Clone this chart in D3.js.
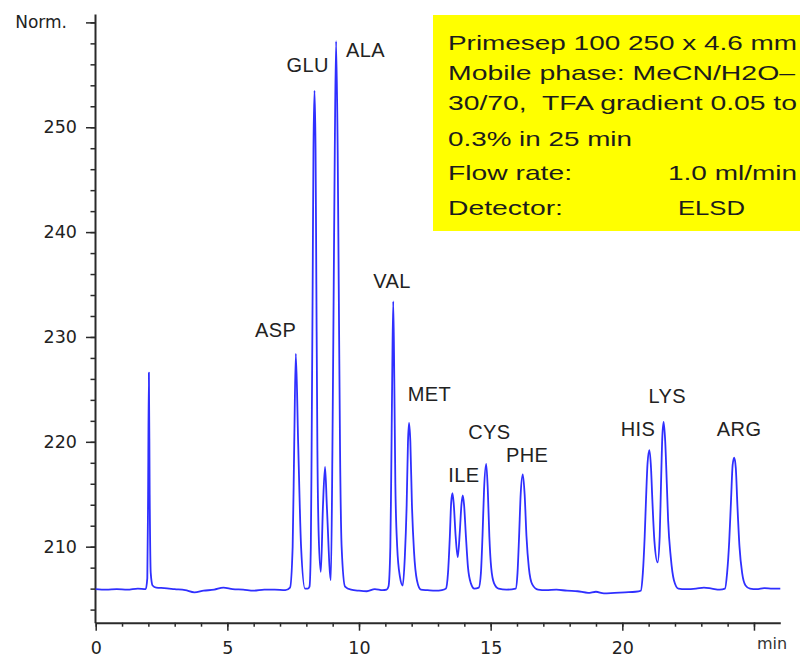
<!DOCTYPE html>
<html>
<head>
<meta charset="utf-8">
<script src="https://cdn.jsdelivr.net/npm/d3@7"></script>
<style>
  body { margin: 0; background: #fff; }
  svg { display: block; }
</style>
</head>
<body>
<script>
// trace: [retention time (min), response]
var trace = [
  [0, 205.95], [0.4, 205.9], [0.8, 205.95], [1.2, 205.9], [1.6, 206.0], [1.9, 205.95],
  [1.96, 207], [1.99, 215], [2.02, 226.6], [2.05, 215], [2.09, 207.5], [2.16, 206.3],
  [2.3, 206.1], [2.6, 206.05], [3.0, 205.95], [3.4, 205.85], [3.75, 205.65], [4.1, 205.8],
  [4.5, 205.9], [4.85, 206.1], [5.2, 205.95], [5.6, 205.9], [6.0, 205.8], [6.4, 205.9],
  [6.8, 205.9], [7.2, 205.85],
  [7.38, 206.1], [7.48, 210], [7.54, 219.8], [7.60, 228.4], [7.69, 219.8], [7.80, 210],
  [7.95, 206.0], [8.05, 206.0],
  [8.12, 206.2], [8.17, 210], [8.20, 219.2], [8.24, 235], [8.27, 247.8], [8.31, 253.5],
  [8.35, 247.8], [8.38, 235], [8.42, 219.2], [8.47, 211], [8.55, 207.6],
  [8.63, 213.8], [8.71, 217.6], [8.78, 213.8], [8.93, 206.8],
  [8.99, 219.2], [9.04, 235], [9.08, 247.8], [9.13, 258.2], [9.19, 247.8], [9.23, 235],
  [9.28, 219.2], [9.34, 210], [9.47, 206.2],
  [9.7, 205.9], [10.0, 205.8], [10.3, 205.75], [10.6, 205.95], [10.9, 205.85], [11.05, 205.9],
  [11.12, 206.2], [11.19, 210], [11.22, 216], [11.26, 226], [11.30, 233.4], [11.34, 226],
  [11.38, 216], [11.45, 210], [11.55, 207.2], [11.66, 206.3],
  [11.74, 209], [11.81, 214], [11.86, 220], [11.90, 221.8], [11.95, 220], [12.01, 214],
  [12.09, 209.5], [12.2, 206.8], [12.35, 205.9],
  [12.6, 205.85], [12.9, 205.8], [13.15, 205.85],
  [13.30, 206.0], [13.38, 207.5], [13.45, 211], [13.50, 214.2], [13.55, 215.1], [13.60, 214],
  [13.67, 211], [13.75, 209.0], [13.83, 211.5], [13.89, 214], [13.94, 214.9], [13.99, 214],
  [14.06, 211], [14.14, 208], [14.25, 206.5], [14.38, 206.0],
  [14.55, 206.1], [14.63, 207.5], [14.69, 211], [14.75, 215.5], [14.83, 217.9], [14.89, 215.5],
  [14.95, 211], [15.02, 208], [15.13, 206.5], [15.3, 206.0], [15.6, 205.9],
  [15.95, 206.0], [16.02, 207.5], [16.08, 211], [16.14, 215], [16.22, 216.9], [16.29, 215],
  [16.36, 211], [16.45, 208], [16.58, 206.4], [16.8, 205.9],
  [17.1, 205.85], [17.5, 205.9], [17.9, 205.8], [18.3, 205.75], [18.7, 205.6], [19.0, 205.7],
  [19.3, 205.55], [19.7, 205.6], [20.1, 205.65], [20.5, 205.7],
  [20.70, 205.8], [20.78, 207.5], [20.85, 211], [20.90, 214.5], [20.96, 218], [21.03, 219.2],
  [21.09, 217.5], [21.14, 214.5], [21.22, 210.5], [21.34, 208.5],
  [21.42, 211], [21.47, 216], [21.52, 220.5], [21.57, 221.9], [21.63, 220], [21.69, 216],
  [21.74, 212.5], [21.84, 209.0], [21.96, 206.8], [22.13, 206.0],
  [22.4, 205.95], [22.8, 206.0], [23.1, 206.1], [23.4, 206.0], [23.7, 205.9],
  [23.90, 206.0], [23.98, 207.5], [24.06, 210.5], [24.13, 214.5], [24.19, 217.8], [24.25, 218.5],
  [24.31, 217.5], [24.37, 214], [24.45, 210], [24.55, 207.5], [24.68, 206.3], [24.85, 206.0],
  [25.1, 205.95], [25.4, 206.05], [25.7, 206.0], [26.0, 206.0]
];

// peak annotations, anchored (left/baseline) in data units
var peakNames  = ["ASP", "GLU", "ALA", "VAL", "MET", "ILE", "CYS", "PHE", "HIS", "LYS", "ARG"];
var labelTime  = [6.05, 7.25, 9.51, 10.54, 11.85, 13.39, 14.15, 15.58, 19.94, 20.99, 23.59];
var labelValue = [230.0, 255.3, 256.7, 234.7, 223.9, 216.2, 220.3, 218.1, 220.6, 223.7, 220.6];

var yTicks = [210, 220, 230, 240, 250];
var xTicks = [0, 5, 10, 15, 20, 25];
var xTickLabels = ["0", "5", "10", "15", "20", ""];
var yTopLabel = "Norm.";
var xUnitLabel = "min";

var boxLines = [
  "Primesep 100 250 x 4.6 mm",
  "Mobile phase: MeCN/H2O\u2013",
  "30/70,  TFA gradient 0.05 to",
  "0.3% in 25 min"
];
var boxPairs = [["Flow rate:", "1.0 ml/min"], ["Detector:", "ELSD"]];

var W = 800, H = 657;
var svg = d3.select("body").append("svg")
    .attr("width", W)
    .attr("height", H)
    .attr("viewBox", [0, 0, W, H]);

var x = d3.scaleLinear().domain([0, 26]).range([95.7, 780.3]);
var y = d3.scaleLinear().domain([202.75, 260.8]).range([622.7, 14]);

var axisColor = "#2a2a2a";
var tickFont = "'DejaVu Sans', sans-serif";
var labelFont = "'Liberation Sans', Arial, sans-serif";

// info box
svg.append("rect")
    .attr("x", 433).attr("y", 15)
    .attr("width", 367).attr("height", 216)
    .attr("fill", "#ffff00");

var boxBase = [50, 80, 110, 146];
var boxLen = [349, 347, 349, 184];
boxLines.forEach(function(t, i) {
  svg.append("text")
      .attr("x", 448).attr("y", boxBase[i])
      .attr("textLength", boxLen[i])
      .attr("lengthAdjust", "spacingAndGlyphs")
      .style("white-space", "pre")
      .style("font-family", labelFont)
      .style("font-size", "21px")
      .attr("fill", "#1c1c1c")
      .text(t);
});
var pairBase = [180, 215];
var pairX = [[448, 668], [448, 678]];
var pairLen = [[124, 129], [115, 67]];
boxPairs.forEach(function(p, i) {
  p.forEach(function(t, j) {
    svg.append("text")
        .attr("x", pairX[i][j]).attr("y", pairBase[i])
        .attr("textLength", pairLen[i][j])
        .attr("lengthAdjust", "spacingAndGlyphs")
        .style("font-family", labelFont)
        .style("font-size", "21px")
        .attr("fill", "#1c1c1c")
        .text(t);
  });
});

// y axis: minor then major ticks
var yMinorG = svg.append("g")
    .attr("transform", "translate(95,0)")
    .call(d3.axisLeft(y).tickValues(d3.range(204, 261, 2)).tickSize(4.5).tickSizeOuter(0).tickFormat(""));
yMinorG.select(".domain").remove();
yMinorG.selectAll("line").attr("stroke", axisColor).attr("stroke-width", 1.5);

var yG = svg.append("g")
    .attr("transform", "translate(95,0)")
    .call(d3.axisLeft(y).tickValues(yTicks.concat([260])).tickSize(9).tickPadding(9).tickSizeOuter(0)
          .tickFormat(function(d) { return d === 260 ? "" : d; }));
yG.select(".domain").attr("stroke", axisColor).attr("stroke-width", 2);
yG.selectAll("line").attr("stroke", axisColor).attr("stroke-width", 1.5);
yG.selectAll("text")
    .style("font-family", tickFont)
    .style("font-size", "17.5px")
    .attr("fill", "#222");

svg.append("text")
    .attr("x", 67).attr("y", y(260))
    .attr("dy", "0.35em")
    .attr("text-anchor", "end")
    .style("font-family", tickFont)
    .style("font-size", "17px")
    .attr("fill", "#222")
    .text(yTopLabel);

// x axis
var xMinorG = svg.append("g")
    .attr("transform", "translate(0,622.7)")
    .call(d3.axisBottom(x).tickValues(d3.range(0, 26, 1)).tickSize(4).tickSizeOuter(0).tickFormat(""));
xMinorG.select(".domain").remove();
xMinorG.selectAll("line").attr("stroke", axisColor).attr("stroke-width", 1.5);

var xG = svg.append("g")
    .attr("transform", "translate(0,622.7)")
    .call(d3.axisBottom(x).tickValues(xTicks).tickSize(8).tickPadding(10.5).tickSizeOuter(0)
          .tickFormat(function(d, i) { return xTickLabels[i]; }));
xG.select(".domain").attr("stroke", axisColor).attr("stroke-width", 2);
xG.selectAll("line").attr("stroke", axisColor).attr("stroke-width", 1.5);
xG.selectAll("text")
    .style("font-family", tickFont)
    .style("font-size", "17.5px")
    .attr("fill", "#222");

svg.append("text")
    .attr("x", 757).attr("y", 649)
    .style("font-family", tickFont)
    .style("font-size", "16px")
    .attr("fill", "#333")
    .text(xUnitLabel);

// chromatogram trace
var line = d3.line()
    .x(function(d) { return x(d[0]); })
    .y(function(d) { return y(d[1]); })
    .curve(d3.curveMonotoneX);

svg.append("path")
    .datum(trace)
    .attr("fill", "none")
    .attr("stroke", "#2f2fff")
    .attr("stroke-width", 1.8)
    .attr("stroke-linejoin", "round")
    .attr("d", line);

// peak labels
peakNames.forEach(function(n, i) {
  svg.append("text")
      .attr("x", x(labelTime[i]))
      .attr("y", y(labelValue[i]))
      .style("font-family", labelFont)
      .style("font-size", "20px")
      .style("letter-spacing", "0.4px")
      .attr("fill", "#222")
      .text(n);
});
</script>
</body>
</html>
